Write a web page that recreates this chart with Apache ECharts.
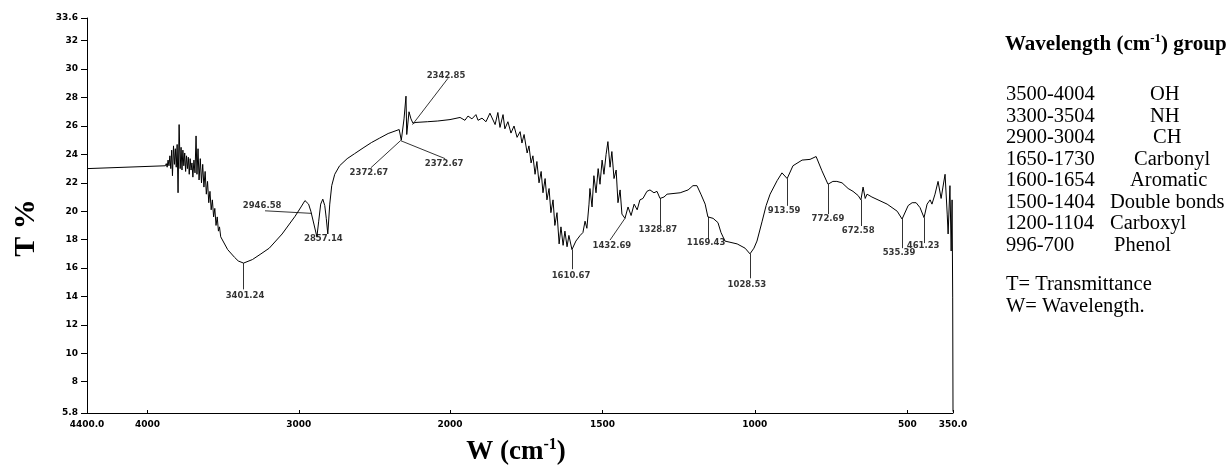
<!DOCTYPE html>
<html><head><meta charset="utf-8">
<script src="https://cdn.jsdelivr.net/npm/echarts@6/dist/echarts.min.js"></script>
<style>html,body{margin:0;padding:0;background:#fff}#c{width:1230px;height:465px}</style>
</head><body><div id="c"></div>
<script>
// ---- data ----
const wavenumber = [4400,3882,3876,3870,3864,3858,3852,3846,3840,3835,3828,3822,3816,3810,3804,3798,3791,3784,3778,3772,3766,3760,3754,3748,3742,3736,3730,3724,3718,3712,3706,3700,3693,3686,3679,3673,3666,3659,3651,3643,3635,3627,3619,3611,3603,3595,3587,3579,3571,3563,3555,3547,3539,3531,3524,3516,3470,3424,3400,3365,3306,3250,3195,3110,3024,2985,2959,2935,2920,2900,2880,2868,2855,2841,2828,2818,2808,2795,2782,2762,2730,2680,2631,2575,2520,2465,2409,2336,2322,2316,2304,2291,2286,2271,2258,2245,2225,2150,2081,2000,
1967,1951,1941,1928,1915,1908,1895,1882,1869,1852,1843,1836,1826,1820,1810,1800,1790,1780,1770,1764,1757,1747,1741,1734,1728,1721,1715,1708,1701,1695,1688,1682,1675,1669,1662,1656,1649,1642,1636,1629,1623,1616,1610,1600,1587,1573,1564,1557,1551,1544,1541,1534,1528,1521,1514,1508,1501,1495,1488,1482,1475,1469,1462,1455,1449,1442,1436,1426,1416,1406,1396,1386,1377,1367,1354,1344,1331,1321,1311,1298,1288,1245,1219,1203,1190,1177,1163,1154,1137,1121,1111,1098,1058,1032,1016,1003,993,976,963,950,927,911,894,875,845,819,799,780,760,744,731,714,694,678,661,652,645,638,632,616,566,533,517,497,484,471,458,445,435,425,419,409,399,389,383,376,369,366,360,356,353,351,350];
const transmittance = [23.0,23.2,23.35,23.1,23.6,23.2,23.9,23.0,24.3,22.5,24.6,23.3,24.4,23.1,24.7,21.3,26.1,23.0,24.5,22.9,24.3,23.2,24.1,22.8,23.9,23.0,23.8,22.6,23.7,22.9,23.4,22.4,23.6,22.7,25.3,22.6,24.4,22.2,23.7,22.0,23.3,21.7,22.8,21.2,22.1,20.6,21.4,20.1,20.8,19.6,20.2,19.0,19.6,18.6,18.9,18.2,17.3,16.75,16.5,16.35,16.6,17.0,17.4,18.4,19.65,20.3,20.75,20.5,20.0,19.1,18.2,19.3,20.5,20.85,20.4,19.5,18.4,20.5,21.8,22.6,23.2,23.7,24.05,24.45,24.83,25.15,25.47,25.75,25.0,25.1,26.5,28.1,25.4,27.0,26.5,26.2,26.25,26.3,26.35,26.45,
26.6,26.4,26.7,26.5,26.8,26.4,26.55,26.3,26.9,26.1,26.95,25.9,26.8,25.8,26.3,25.5,26.0,25.2,25.6,24.8,25.4,24.1,24.6,23.4,23.9,22.6,23.5,22.0,22.8,21.3,22.3,20.8,21.6,19.9,20.8,19.0,19.9,17.7,18.9,17.6,18.6,17.5,18.3,17.3,17.9,18.3,18.5,19.3,18.8,20.5,21.6,20.3,22.5,21.3,23.0,21.9,23.6,22.6,24.0,24.9,23.1,24.2,22.3,22.9,20.6,21.5,19.8,19.5,20.3,19.7,20.5,20.1,20.8,20.9,21.4,21.5,21.3,21.4,20.9,21.0,21.2,21.3,21.5,21.8,21.8,21.2,20.5,19.6,19.5,19.2,18.5,17.9,17.7,17.4,17.0,17.4,17.9,19.3,20.4,21.2,22.15,22.7,22.3,23.2,23.6,23.65,23.85,22.85,21.9,22.1,22.1,22.0,21.6,21.4,21.1,20.8,21.7,20.9,21.2,21.0,20.5,20.0,19.45,20.4,20.6,20.6,20.25,19.55,20.5,20.8,20.5,21.2,22.1,20.9,21.7,22.6,19.8,18.4,21.8,17.2,20.8,13.9,5.9];

const xTickValues = [4400,4000,3000,2000,1500,1000,500,350];
const xTickLabels = ['4400.0','4000','3000','2000','1500','1000','500','350.0'];
const yTickValues = [5.8,8,10,12,14,16,18,20,22,24,26,28,30,32,33.6];
const yTickLabels = ['5.8','8','10','12','14','16','18','20','22','24','26','28','30','32','33.6'];

// peak annotations: text, text anchor, leader line (curve end -> text end)
const annText  = ['3401.24','2946.58','2857.14','2372.67','2372.67','2342.85','1610.67','1432.69','1328.87','1169.43','1028.53','913.59','772.69','672.58','535.39','461.23'];
const annTextW = [3355,3242,2837,2536,2039,2026,1603,1469,1318,1160,1026,904,760,661,527,448];
const annTextT = [14.05,20.4,18.05,22.7,23.35,29.55,15.45,17.6,18.7,17.75,14.85,20.0,19.5,18.6,17.1,17.55];
const annCurveW = [3365,2915,null,2327,2327,2248,1600,1426,1311,1154,1016,894,760,652,517,445];
const annCurveT = [16.35,19.85,null,24.97,24.97,26.1,17.3,19.5,20.9,19.6,17.0,22.3,21.9,20.8,19.45,19.55];
const annEndW = [3365,3223,null,2523,2032,2013,1600,1475,1311,1154,1016,894,760,652,517,445];
const annEndT = [14.5,20.03,null,23.06,23.7,29.36,15.92,17.97,18.96,18.04,15.28,20.38,19.8,18.96,17.4,17.76];

const groupRanges = ['3500-4004','3300-3504','2900-3004','1650-1730','1600-1654','1500-1404','1200-1104','996-700'];
const groupNames = ['OH','NH','CH','Carbonyl','Aromatic','Double bonds','Carboxyl','Phenol'];
const notes = ['T= Transmittance','W= Wavelength.'];

// ---- build ----
const pts = wavenumber.map((w,i)=>[w, transmittance[i]]);
const highPts = pts.filter(p=>p[0]>=2000);
const lowPts = pts.filter(p=>p[0]<=2000);

const labelFont = {fontFamily:'DejaVu Sans', fontWeight:'bold', fontSize:9, color:'#000'};
const annFont = {fontFamily:'DejaVu Sans', fontWeight:'bold', fontSize:8.5, color:'#000'};

function annFor(high){
  const lines = [], texts = [];
  annText.forEach((t,i)=>{
    const isHigh = annTextW[i] >= 2000;
    if (isHigh !== high) return;
    texts.push({name:t, value:[annTextW[i], annTextT[i]]});
    if (annCurveW[i] !== null) lines.push([{coord:[annCurveW[i], annCurveT[i]]},{coord:[annEndW[i], annEndT[i]]}]);
  });
  return {lines, texts};
}
const annHigh = annFor(true), annLow = annFor(false);

function mkX(gi, min, max, vals){
  return {
    type:'value', gridIndex:gi, min:min, max:max, inverse:true,
    axisLine:{show:true, onZero:false, lineStyle:{color:'#000', width:1}},
    axisTick:{show:true, inside:true, length:3, customValues:vals, lineStyle:{color:'#000'}},
    axisLabel:Object.assign({customValues:vals, margin:7, formatter:v=>xTickLabels[xTickValues.indexOf(v)]}, labelFont),
    splitLine:{show:false}
  };
}
function lineSeries(gi, data, ann){
  return {
    type:'line', xAxisIndex:gi, yAxisIndex:gi, data:data, showSymbol:false, symbol:'none',
    lineStyle:{color:'#000', width:1}, silent:true,
    markLine:{silent:true, symbol:['none','none'], label:{show:false}, lineStyle:{color:'#000', width:0.8, type:'solid'}, emphasis:{disabled:true}, data:ann.lines}
  };
}
function textSeries(gi, ann){
  return {
    type:'scatter', xAxisIndex:gi, yAxisIndex:gi, data:ann.texts, symbolSize:1, silent:true,
    itemStyle:{color:'rgba(0,0,0,0)'},
    label:Object.assign({show:true, position:'inside', formatter:'{b}'}, annFont)
  };
}

const graphic = [];
graphic.push({type:'text', x:26, y:228, rotation:Math.PI/2, style:{text:'T %', font:'bold 30px "Liberation Serif"', fill:'#000', align:'center', verticalAlign:'middle', textAlign:'center', textVerticalAlign:'middle'}});
graphic.push({type:'text', x:516, y:452, style:{text:'{b|W (cm}{s|-1}{b|)}', fill:'#000', align:'center', verticalAlign:'middle', textAlign:'center', textVerticalAlign:'middle',
  rich:{b:{font:'bold 27px "Liberation Serif"', lineHeight:30, fill:'#000'}, s:{font:'bold 16px "Liberation Serif"', verticalAlign:'top', fill:'#000'}}}});
graphic.push({type:'text', x:1005, y:45, style:{text:'{b|Wavelength (cm}{s|-1}{b|) group}', fill:'#000', align:'left', verticalAlign:'middle', textAlign:'left', textVerticalAlign:'middle',
  rich:{b:{font:'bold 21px "Liberation Serif"', lineHeight:25, fill:'#000'}, s:{font:'bold 13px "Liberation Serif"', verticalAlign:'top', fill:'#000'}}}});
const groupNameX = [1150,1150,1153,1134,1130,1110,1110,1114];
groupRanges.forEach((r,i)=>{
  const y = 95 + 21.5*i;
  graphic.push({type:'text', x:1006, y:y, style:{text:r, font:'20.5px "Liberation Serif"', fill:'#000', align:'left', verticalAlign:'middle', textAlign:'left', textVerticalAlign:'middle'}});
  graphic.push({type:'text', x:groupNameX[i], y:y, style:{text:groupNames[i], font:'20.5px "Liberation Serif"', fill:'#000', align:'left', verticalAlign:'middle', textAlign:'left', textVerticalAlign:'middle'}});
});
notes.forEach((t,i)=>{
  graphic.push({type:'text', x:1006, y:285 + 21.5*i, style:{text:t, font:'20.5px "Liberation Serif"', fill:'#000', align:'left', verticalAlign:'middle', textAlign:'left', textVerticalAlign:'middle'}});
});

const option = {
  animation:false,
  backgroundColor:'#fff',
  grid:[{left:87, top:18, width:363, height:395},{left:450, top:18, width:503, height:395}],
  xAxis:[mkX(0,2000,4400,[4400,4000,3000,2000]), mkX(1,350,2000,[1500,1000,500,350])],
  yAxis:[
    {type:'value', gridIndex:0, min:5.8, max:33.6,
     axisLine:{show:true, lineStyle:{color:'#000', width:1}},
     axisTick:{show:true, inside:false, length:6, customValues:yTickValues, lineStyle:{color:'#000'}},
     axisLabel:Object.assign({customValues:yTickValues, margin:9, formatter:v=>yTickLabels[yTickValues.indexOf(v)]}, labelFont),
     splitLine:{show:false}},
    {type:'value', gridIndex:1, min:5.8, max:33.6, show:false, splitLine:{show:false}}
  ],
  series:[lineSeries(0, highPts, annHigh), lineSeries(1, lowPts, annLow), textSeries(0, annHigh), textSeries(1, annLow)],
  graphic:graphic
};
const chart = echarts.init(document.getElementById('c'), null, {renderer:'canvas'});
chart.setOption(option);
</script></body></html>
